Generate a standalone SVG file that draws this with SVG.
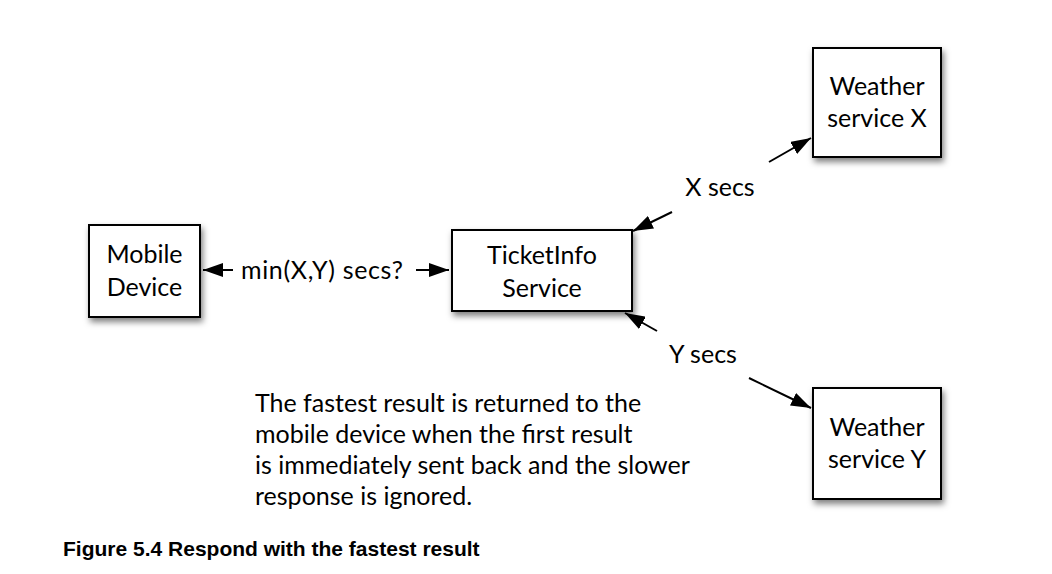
<svg xmlns="http://www.w3.org/2000/svg" width="1052" height="574" viewBox="0 0 1052 574">
<style>
.box{fill:#fff;stroke:#000;stroke-width:2;filter:url(#sh)}
.t{font-family:Lato,"Open Sans",sans-serif;font-size:25px;fill:#000}
.c{text-anchor:middle}
.ln{stroke:#000;stroke-width:2;fill:none;marker-end:url(#ah)}
.cap{font-family:"Liberation Sans",Arial,sans-serif;font-weight:bold;font-size:21px;fill:#000}
</style>
<defs>
<filter id="sh" x="-20%" y="-20%" width="150%" height="150%">
<feDropShadow dx="2" dy="4" stdDeviation="3" flood-color="#000" flood-opacity="0.5"/>
</filter>
<marker id="ah" viewBox="0 0 20 14" refX="20" refY="7" markerWidth="10" markerHeight="7" orient="auto" markerUnits="strokeWidth">
<path d="M0,0 L20,7 L0,14 z" fill="#000"/>
</marker>
</defs>
<rect width="1052" height="574" fill="#fff"/>
<g id="connectors">
<line class="ln" x1="233" y1="270" x2="203" y2="270"/>
<line class="ln" x1="416" y1="270" x2="449" y2="270"/>
<line class="ln" x1="769" y1="162" x2="811" y2="138"/>
<line class="ln" x1="672" y1="212" x2="633" y2="231"/>
<line class="ln" x1="657" y1="331" x2="625" y2="313"/>
<line class="ln" x1="749" y1="378" x2="811" y2="408"/>
<text class="t" x="241" y="279" textLength="162">min(X,Y) secs?</text>
<text class="t c" x="720" y="196">X secs</text>
<text class="t c" x="703" y="363">Y secs</text>
</g>
<g id="mobile">
<rect class="box" x="89" y="225" width="111" height="92"/>
<text class="t c" x="144.5" y="263">Mobile</text>
<text class="t c" x="144.5" y="296">Device</text>
</g>
<g id="ticketinfo">
<rect class="box" x="452" y="230" width="180" height="81"/>
<text class="t c" x="542" y="264">TicketInfo</text>
<text class="t c" x="542" y="297">Service</text>
</g>
<g id="weatherX">
<rect class="box" x="813" y="48" width="128" height="109"/>
<text class="t c" x="877" y="95">Weather</text>
<text class="t c" x="877" y="127">service X</text>
</g>
<g id="weatherY">
<rect class="box" x="813" y="388" width="128" height="111"/>
<text class="t c" x="877" y="436">Weather</text>
<text class="t c" x="877" y="468">service Y</text>
</g>
<g id="note">
<text class="t" x="255" y="412">The fastest result is returned to the</text>
<text class="t" x="255" y="443">mobile device when the first result</text>
<text class="t" x="255" y="474">is immediately sent back and the slower</text>
<text class="t" x="255" y="505">response is ignored.</text>
</g>
<text class="cap" x="63" y="556">Figure 5.4 Respond with the fastest result</text>
</svg>
